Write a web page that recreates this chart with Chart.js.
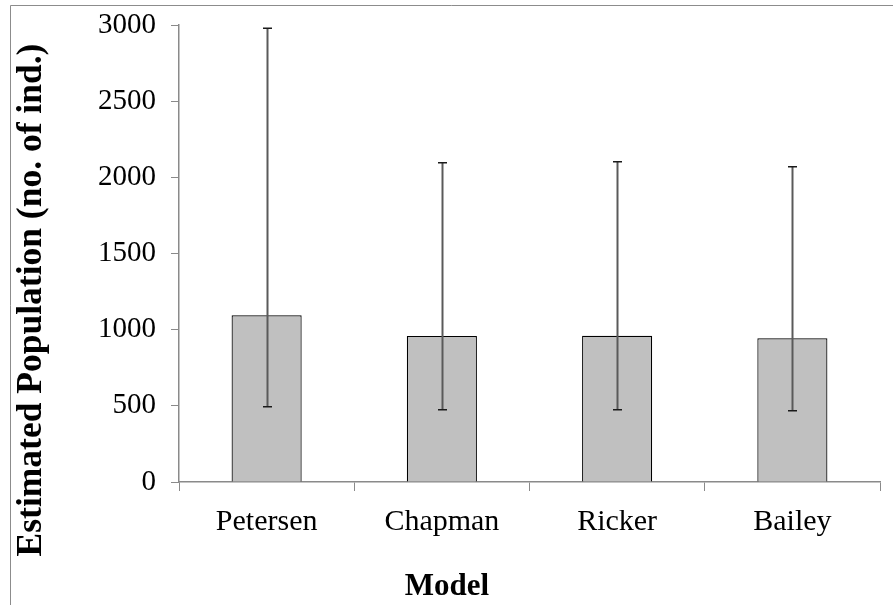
<!DOCTYPE html>
<html>
<head>
<meta charset="utf-8">
<script src="https://cdn.jsdelivr.net/npm/chart.js@4/dist/chart.umd.min.js"></script>
<style>
  html, body { margin: 0; padding: 0; background: #ffffff; }
  #wrap { width: 893px; height: 605px; }
</style>
</head>
<body>
<div id="wrap"><canvas id="chart" width="893" height="605"></canvas></div>
<script>
// Population estimates by model, with lower / upper confidence limits
const models = ['Petersen', 'Chapman', 'Ricker', 'Bailey'];
const estimates = [1094, 958, 960, 943];
const lowerLimits = [494, 475, 475, 468];
const upperLimits = [2978, 2096, 2103, 2070];
const yTicks = [0, 500, 1000, 1500, 2000, 2500, 3000];

const xTitle = 'Model';
const yTitle = 'Estimated Population (no. of ind.)';

const SERIF = '"Liberation Serif", "Times New Roman", serif';

// Vertical error bars drawn through the y scale
const errorBars = {
  id: 'errorBars',
  afterDatasetsDraw(chart) {
    const ctx = chart.ctx;
    const y = chart.scales.y;
    const meta = chart.getDatasetMeta(0);
    ctx.save();
    meta.data.forEach((bar, i) => {
      const x = Math.round(bar.x) + 0.5;
      const yLo = y.getPixelForValue(lowerLimits[i]);
      const yHi = y.getPixelForValue(upperLimits[i]);
      ctx.strokeStyle = '#5a5a5a';
      ctx.lineWidth = 2;
      ctx.beginPath();
      ctx.moveTo(x, yLo);
      ctx.lineTo(x, yHi);
      ctx.stroke();
      ctx.strokeStyle = '#1a1a1a';
      ctx.lineWidth = 1.5;
      ctx.beginPath();
      ctx.moveTo(x - 4.5, yLo);
      ctx.lineTo(x + 4.5, yLo);
      ctx.moveTo(x - 4.5, yHi);
      ctx.lineTo(x + 4.5, yHi);
      ctx.stroke();
    });
    ctx.restore();
  }
};

// Outer frame and axis titles, centred on the whole chart frame
const frameAndTitles = {
  id: 'frameAndTitles',
  beforeDraw(chart) {
    const ctx = chart.ctx;
    ctx.save();
    ctx.fillStyle = '#ffffff';
    ctx.fillRect(0, 0, chart.width, chart.height);
    ctx.strokeStyle = '#8c8c8c';
    ctx.lineWidth = 1;
    ctx.beginPath();
    ctx.moveTo(10.5, chart.height);
    ctx.lineTo(10.5, 5.5);
    ctx.lineTo(chart.width, 5.5);
    ctx.stroke();
    ctx.restore();
  },
  afterDraw(chart) {
    const ctx = chart.ctx;
    ctx.save();
    ctx.fillStyle = '#000000';
    ctx.textAlign = 'center';
    ctx.textBaseline = 'middle';
    ctx.font = 'bold 31px ' + SERIF;
    ctx.fillText(xTitle, 447, 587);
    ctx.translate(32, 300);
    ctx.rotate(-Math.PI / 2);
    ctx.font = 'bold 35.5px ' + SERIF;
    ctx.fillText(yTitle, 0, 0);
    ctx.restore();
  }
};

new Chart(document.getElementById('chart'), {
  type: 'bar',
  data: {
    labels: models,
    datasets: [{
      data: estimates,
      backgroundColor: '#c0c0c0',
      borderColor: '#000000',
      borderWidth: 1.2,
      barPercentage: 0.4,
      categoryPercentage: 1.0
    }]
  },
  options: {
    responsive: false,
    animation: false,
    events: [],
    layout: { padding: { left: 10, top: 25, right: 13, bottom: 0 } },
    plugins: {
      legend: { display: false },
      tooltip: { enabled: false },
      title: { display: false }
    },
    scales: {
      x: {
        grid: {
          display: true,
          offset: true,
          drawOnChartArea: false,
          drawTicks: true,
          tickLength: 9,
          color: '#8a8a8a'
        },
        border: { display: true, color: '#8a8a8a', width: 1.5 },
        ticks: {
          color: '#000000',
          font: { family: SERIF, size: 30 },
          padding: 13,
          maxRotation: 0
        },
        afterFit(scale) { scale.height = 123; }
      },
      y: {
        min: 0,
        max: 3000,
        afterBuildTicks(scale) { scale.ticks = yTicks.map(v => ({ value: v })); },
        grid: {
          display: true,
          drawOnChartArea: false,
          drawTicks: true,
          tickLength: 8,
          color: '#8a8a8a'
        },
        border: { display: true, color: '#8a8a8a', width: 1.5 },
        ticks: {
          color: '#000000',
          font: { family: SERIF, size: 29 },
          padding: 15,
          callback: (v) => String(v)
        },
        afterFit(scale) {
          scale.width = 169;
          scale.paddingTop = 0;
          scale.paddingBottom = 0;
        }
      }
    }
  },
  plugins: [frameAndTitles, errorBars]
});
</script>
</body>
</html>
